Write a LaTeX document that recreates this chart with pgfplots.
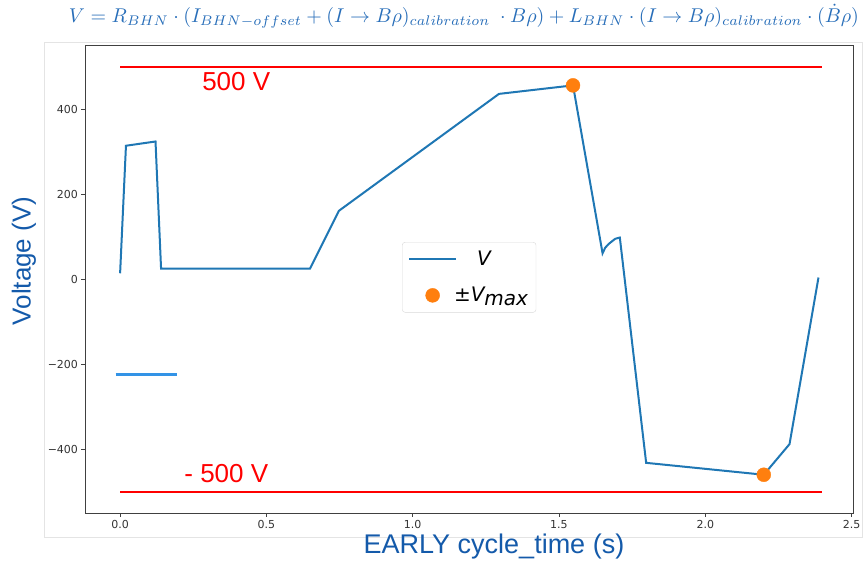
\documentclass[border=0pt]{standalone}
\usepackage{fontspec}
\usepackage{graphicx}
\usepackage{pgfplots}
\pgfplotsset{compat=1.18}
\setmainfont{DejaVu Sans}
\newfontfamily\arialfont{Liberation Sans}
\definecolor{mplblue}{HTML}{1F77B4}
\definecolor{mplorange}{HTML}{FF7F0E}
\definecolor{labelblue}{RGB}{20,90,170}
\definecolor{eqblue}{RGB}{40,110,185}
\definecolor{segblue}{HTML}{3393E6}
\definecolor{framegray}{HTML}{E4E4E4}

% Bending-magnet voltage over the early cycle
\pgfplotstableread{
t      V
0.000  14
0.020  314
0.121  324
0.140  25
0.649  25
0.748  161
1.295  436
1.548  456
1.649  61
1.658  74
1.670  83
1.692  95
1.708  98
1.798  -432
2.200  -460
2.288  -388
2.387  4
}\voltage

\begin{document}
\begin{tikzpicture}
\useasboundingbox (-85pt,-52pt) rectangle (779pt,513pt);
% light frame of the plot panel
\draw[framegray, line width=0.8pt] (-41pt,-24pt) rectangle (777pt,471pt);

\begin{axis}[
  at={(0pt,0pt)}, anchor=south west,
  scale only axis, width=768pt, height=468pt,
  xmin=-0.12, xmax=2.505, ymin=-550, ymax=551,
  xtick={0,0.5,1,1.5,2,2.5},
  xticklabels={0.0,0.5,1.0,1.5,2.0,2.5},
  ytick={-400,-200,0,200,400},
  yticklabels={−400,−200,0,200,400},
  tick pos=left, tick align=outside,
  major tick length=3.5pt,
  tick style={black!75, line width=0.8pt},
  axis line style={black!75, line width=0.9pt},
  ticklabel style={font=\fontsize{11}{13}\selectfont, text=black!80},
  legend style={at={(0.4128,0.579)}, anchor=north west,
    draw=black!15, rounded corners=3pt, fill=white,
    font=\fontsize{20}{24}\selectfont,
    inner xsep=6pt, inner ysep=7pt, row sep=16pt,
    cells={anchor=west}},
]
\addplot[mplblue, line width=2pt,
  legend image code/.code={\draw[mplblue, line width=1.8pt] (0pt,0pt) -- (47pt,0pt);}]
  table[x=t, y=V] {\voltage};
\addlegendentry{\hspace{18pt}\itshape V}

\addplot[red, line width=2pt, forget plot] coordinates {(0,500) (2.4,500)};
\addplot[red, line width=2pt, forget plot] coordinates {(0,-500) (2.4,-500)};
\addplot[segblue, line width=3pt, forget plot] coordinates {(-0.015,-223) (0.195,-223)};

\addplot[only marks, mark=*, mark size=7pt, color=mplorange,
  legend image code/.code={\fill[mplorange] (23.5pt,0pt) circle (7pt);}]
  coordinates {(1.548,456) (2.200,-460)};
\addlegendentry{\hspace{-5pt}±\itshape V\raisebox{-4pt}{max}\rule[-18pt]{0pt}{1pt}}

\node[red, inner sep=0pt, font=\arialfont\fontsize{26}{29}\selectfont]
  at (axis cs:0.397,464) {500 V};
\node[red, inner sep=0pt, font=\arialfont\fontsize{26}{29}\selectfont]
  at (axis cs:0.363,-458) {- 500 V};
\end{axis}

% axis titles
\node[labelblue, rotate=90, inner sep=0pt, font=\arialfont\fontsize{26}{30}\selectfont]
  at (-61pt,252pt) {Voltage (V)};
\node[labelblue, inner sep=0pt, font=\arialfont\fontsize{27}{31}\selectfont]
  at (409pt,-34pt) {EARLY cycle\_time (s)};

% governing relation
\node[eqblue, inner sep=0pt] at (379pt,497pt) {\resizebox{790pt}{!}{$V = R_{BHN}\cdot(I_{BHN-offset}+(I\rightarrow B\rho)_{calibration}\;\cdot B\rho)+L_{BHN}\cdot(I\rightarrow B\rho)_{calibration}\cdot(\dot{B}\rho)$}};
\end{tikzpicture}
\end{document}
